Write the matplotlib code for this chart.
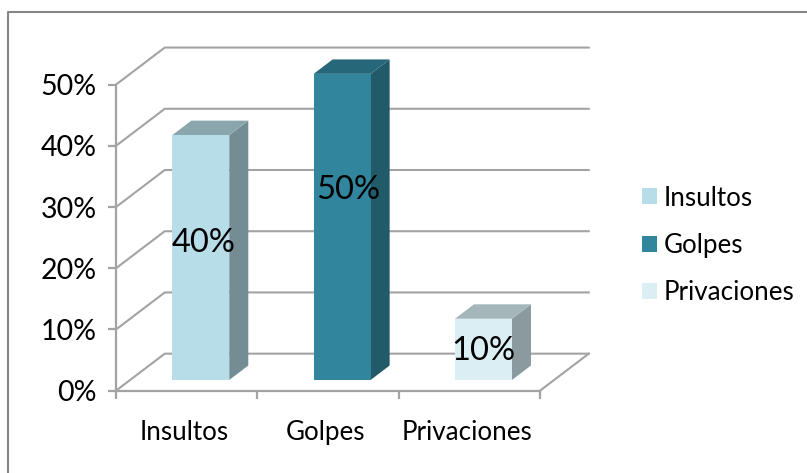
import matplotlib
matplotlib.use('Agg')
import matplotlib.pyplot as plt
from matplotlib.patches import Patch, Polygon
from matplotlib.lines import Line2D

plt.rcParams['font.family'] = ['Lato', 'DejaVu Sans']

categories = ['Insultos', 'Golpes', 'Privaciones']
values = [40, 50, 10]
yticks = [0, 10, 20, 30, 40, 50]
front_colors = ['#b7dde8', '#31859c', '#dbeef4']
top_colors = ['#8aa6ad', '#26687a', '#a5b6ba']
side_colors = ['#748d94', '#215a69', '#8a9a9e']

W, H = 807, 473
GRID = '#a3a3a3'

# desplazamiento de la perspectiva (unidades de datos, profundidad = 1)
DX = 0.345
DY = 6.05
BAR_W = 0.403
D0, D1 = 0.29, 0.68

# posicion de las etiquetas de datos
label_x = [0.62, 1.645, 2.597]
label_y = [24.1, 32.8, 6.5]


def proj(x, y, d):
    return (x + d * DX, y + d * DY)


fig = plt.figure(figsize=(W / 100, H / 100), dpi=100)
ax = fig.add_axes([116 / W, (H - 390.7) / H, 424 / W, 306.1 / H])
ax.set_xlim(0, 3)
ax.set_ylim(0, 50)
ax.patch.set_visible(False)

# marco exterior
fig.add_artist(Line2D([7.5 / W, 7.5 / W, 1], [0, (H - 12) / H, (H - 12) / H],
                      transform=fig.transFigure, color='#868686', lw=1.5))

# rejilla: pared izquierda y pared del fondo
for t in yticks:
    bx, by = proj(0, t, 1)
    ex, ey = proj(3, t, 1)
    ax.plot([0, bx, ex], [t, by, ey], color=GRID, lw=1.5, clip_on=False, zorder=1,
            solid_joinstyle='round')
ex, ey = proj(3, 0, 1)
ax.plot([3, ex], [0, ey], color=GRID, lw=1.5, clip_on=False, zorder=1)

# barras
for i, val in enumerate(values):
    x0 = i + 0.5 - BAR_W / 2
    x1 = i + 0.5 + BAR_W / 2
    a = proj(x0, 0, D0)
    b = proj(x1, 0, D0)
    c = proj(x1, val, D0)
    d = proj(x0, val, D0)
    e = proj(x1, val, D1)
    f = proj(x0, val, D1)
    g = proj(x1, 0, D1)
    ax.add_patch(Polygon([b, g, e, c], fc=side_colors[i], ec='none', clip_on=False, zorder=3))
    ax.add_patch(Polygon([d, c, e, f], fc=top_colors[i], ec='none', clip_on=False, zorder=3))
    ax.add_patch(Polygon([a, b, c, d], fc=front_colors[i], ec='none', clip_on=False, zorder=3))
    # etiqueta de datos
    ax.text(label_x[i], label_y[i], f'{val}%', ha='center', va='center',
            fontsize=23.5, color='black', zorder=5)

# ejes
for s in ['top', 'right']:
    ax.spines[s].set_visible(False)
for s in ['left', 'bottom']:
    ax.spines[s].set_color(GRID)
    ax.spines[s].set_linewidth(1.6)
ax.set_yticks(yticks)
ax.set_yticklabels([f'{t}%' for t in yticks], fontsize=20.5, color='black')
ax.tick_params(axis='y', length=6, width=1.6, color=GRID, pad=8)
ax.set_xticks([0, 1, 2, 3])
ax.set_xticklabels([])
ax.tick_params(axis='x', which='major', length=6, width=1.6, color=GRID)
ax.set_xticks([0.48, 1.48, 2.48], minor=True)
ax.set_xticklabels(categories, minor=True, fontsize=18.7, color='black')
ax.tick_params(axis='x', which='minor', length=0, pad=21)

# leyenda
handles = [Patch(fc=c, ec='none', label=n) for c, n in zip(front_colors, categories)]
fig.legend(handles=handles, loc='center left', bbox_to_anchor=(642 / W, (H - 245.5) / H),
           frameon=False, fontsize=18.7, handlelength=0.57, handleheight=0.57,
           handletextpad=0.27, labelspacing=0.86, borderpad=0, borderaxespad=0)

fig.savefig('out.png', dpi=100)
